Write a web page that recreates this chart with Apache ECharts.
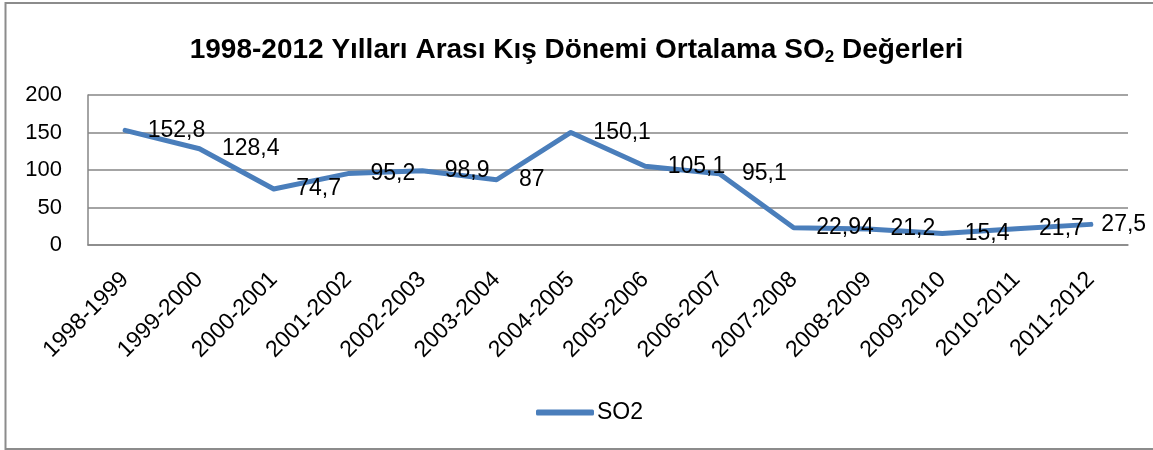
<!DOCTYPE html>
<html>
<head>
<meta charset="utf-8">
<script src="https://cdn.jsdelivr.net/npm/echarts@6/dist/echarts.min.js"></script>
<style>
html,body{margin:0;padding:0;background:#fff;}
#chart{width:1153px;height:450px;}
</style>
</head>
<body>
<div id="chart"></div>
<script>
const categories = ['1998-1999','1999-2000','2000-2001','2001-2002','2002-2003','2003-2004','2004-2005','2005-2006','2006-2007','2007-2008','2008-2009','2009-2010','2010-2011','2011-2012'];
const so2Values = [152.8, 128.4, 74.7, 95.2, 98.9, 87, 150.1, 105.1, 95.1, 22.94, 21.2, 15.4, 21.7, 27.5];
const yTicks = [0, 50, 100, 150, 200];
const seriesName = 'SO2';

const FONT = 'Liberation Sans';
const chart = echarts.init(document.getElementById('chart'), null, {renderer: 'canvas'});

const seriesData = so2Values.map((v, i) => {
  const item = {value: v};
  if (i === so2Values.length - 1) item.label = {distance: 10};
  return item;
});

chart.setOption({
  animation: false,
  backgroundColor: '#fff',
  textStyle: {fontFamily: FONT},
  graphic: [{
    type: 'rect',
    shape: {x: 5.5, y: 3, width: 1160, height: 446},
    style: {fill: 'none', stroke: '#8c8c8c', lineWidth: 2},
    silent: true
  }],
  title: {
    text: '{t|1998-2012 Yılları Arası Kış Dönemi Ortalama SO}{s|2}{t| Değerleri}',
    left: 'center',
    top: 30,
    textStyle: {
      rich: {
        t: {fontFamily: FONT, fontWeight: 'bold', fontSize: 28, color: '#000'},
        s: {fontFamily: FONT, fontWeight: 'bold', fontSize: 17, color: '#000', padding: [14, 0, 0, 0]}
      }
    }
  },
  legend: {
    data: [seriesName],
    left: 531,
    top: 396,
    itemWidth: 58,
    itemHeight: 6,
    itemGap: 4,
    icon: 'roundRect',
    itemStyle: {color: '#4a7ebb', opacity: 1},
    textStyle: {fontFamily: FONT, fontSize: 23, color: '#000', padding: [0, 0, 0, -2]}
  },
  grid: {left: 88, right: 25, top: 95, bottom: 205, containLabel: false},
  xAxis: {
    type: 'category',
    data: categories,
    boundaryGap: true,
    axisLine: {lineStyle: {color: '#868686', width: 1.5}},
    axisTick: {show: false},
    axisLabel: {rotate: 45, fontFamily: FONT, fontSize: 23, color: '#000', margin: 31, interval: 0}
  },
  yAxis: {
    type: 'value',
    min: yTicks[0],
    max: yTicks[yTicks.length - 1],
    interval: yTicks[1] - yTicks[0],
    axisLine: {show: true, lineStyle: {color: '#868686', width: 1.5}},
    axisTick: {show: false},
    splitLine: {lineStyle: {color: '#868686', width: 1.5}},
    axisLabel: {fontFamily: FONT, fontSize: 22, color: '#000', margin: 26}
  },
  series: [{
    name: seriesName,
    type: 'line',
    data: seriesData,
    symbol: 'circle',
    symbolSize: 1,
    showSymbol: true,
    lineStyle: {color: '#4a7ebb', width: 5, join: 'round', cap: 'round'},
    itemStyle: {color: '#4a7ebb', opacity: 0},
    label: {
      show: true,
      position: 'right',
      distance: 22,
      fontFamily: FONT,
      fontSize: 23,
      color: '#000',
      opacity: 1,
      formatter: p => String(p.value).replace('.', ',')
    }
  }]
});
</script>
</body>
</html>
